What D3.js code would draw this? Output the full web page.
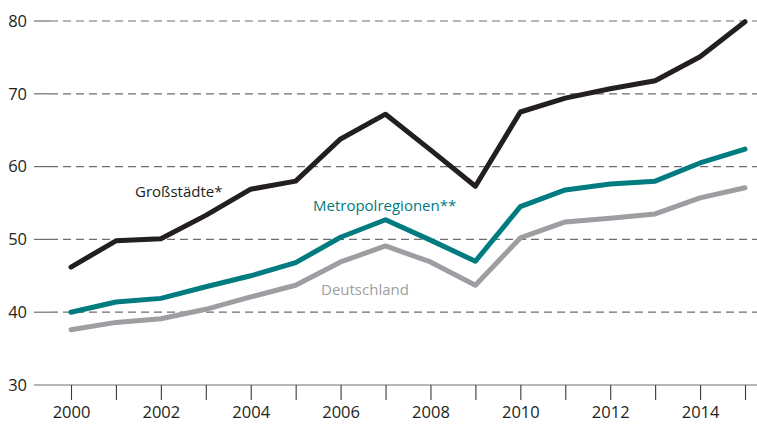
<!DOCTYPE html>
<html>
<head>
<meta charset="utf-8">
<script src="https://cdn.jsdelivr.net/npm/d3@7"></script>
<style>
  body { margin: 0; background: #fff; }
  svg { display: block; font-family: "Open Sans", "Noto Sans", sans-serif; }
</style>
</head>
<body>
<svg id="chart" width="757" height="426"></svg>
<script>
// data
const years = [2000, 2001, 2002, 2003, 2004, 2005, 2006, 2007, 2008, 2009, 2010, 2011, 2012, 2013, 2014, 2015];
const grossstaedte = [46.2, 49.8, 50.1, 53.3, 56.9, 58.0, 63.8, 67.2, 62.3, 57.3, 67.5, 69.4, 70.7, 71.8, 75.1, 79.9];
const metropol = [40.0, 41.4, 41.9, 43.5, 45.0, 46.8, 50.3, 52.7, 49.9, 47.0, 54.5, 56.8, 57.6, 58.0, 60.5, 62.4];
const deutschland = [37.6, 38.6, 39.1, 40.4, 42.1, 43.7, 46.9, 49.1, 46.9, 43.7, 50.2, 52.4, 52.9, 53.5, 55.7, 57.1];
const yTicks = [30, 40, 50, 60, 70, 80];
const xLabels = [2000, 2002, 2004, 2006, 2008, 2010, 2012, 2014];

const svg = d3.select("#chart");

//scales
const x = d3.scaleLinear().domain([2000, 2015]).range([71, 745]);
const y = d3.scaleLinear().domain([30, 80]).range([385, 21]);

const axisLeft = 34, gridStart = 50, rightEdge = 757;

//gridlines (dashed) + short solid ticks
yTicks.forEach(function (t) {
  if (t === 30) return;
  svg.append("line")
    .attr("x1", gridStart).attr("x2", rightEdge)
    .attr("y1", y(t)).attr("y2", y(t))
    .attr("stroke", "#6d6e70").attr("stroke-width", 1.2)
    .attr("stroke-dasharray", "8,5");
  svg.append("line")
    .attr("x1", axisLeft).attr("x2", gridStart)
    .attr("y1", y(t)).attr("y2", y(t))
    .attr("stroke", "#6d6e70").attr("stroke-width", 1.2);
});

//bottom axis
svg.append("line")
  .attr("x1", axisLeft).attr("x2", rightEdge)
  .attr("y1", y(30)).attr("y2", y(30))
  .attr("stroke", "#6d6e70").attr("stroke-width", 1.2);

const xAxis = svg.append("g")
  .attr("transform", "translate(0," + y(30) + ")")
  .call(d3.axisBottom(x)
    .tickValues(years)
    .tickSize(15)
    .tickFormat(function (d) { return xLabels.indexOf(d) > -1 ? d : ""; }));
xAxis.select(".domain").remove();
xAxis.selectAll("line").attr("stroke", "#3a3a3a").attr("stroke-width", 1.1);
xAxis.selectAll("text")
  .attr("y", 21)
  .attr("dy", "0.71em")
  .style("font-family", "'Open Sans', sans-serif")
  .style("font-size", "16.5px")
  .attr("fill", "#231f20");

//y labels
svg.append("g").selectAll("text")
  .data(yTicks)
  .enter().append("text")
  .attr("x", 27)
  .attr("y", function (d) { return y(d); })
  .attr("dy", "0.35em")
  .attr("text-anchor", "end")
  .style("font-size", "16.5px")
  .attr("fill", "#231f20")
  .text(function (d) { return d; });

//lines
const line = d3.line()
  .x(function (d, i) { return x(years[i]); })
  .y(function (d) { return y(d); });

const series = [
  { values: deutschland, color: "#9d9ea1" },
  { values: metropol, color: "#007c80" },
  { values: grossstaedte, color: "#231f20" }
];
series.forEach(function (s) {
  svg.append("path")
    .datum(s.values)
    .attr("d", line)
    .attr("fill", "none")
    .attr("stroke", s.color)
    .attr("stroke-width", 5)
    .attr("stroke-linejoin", "round")
    .attr("stroke-linecap", "round");
});

//series labels
svg.append("text").attr("x", 135).attr("y", 197)
  .style("font-size", "15px").attr("fill", "#231f20").text("Großstädte*");
svg.append("text").attr("x", 313).attr("y", 211)
  .style("font-size", "15px").attr("fill", "#007c80").text("Metropolregionen**");
svg.append("text").attr("x", 321).attr("y", 295)
  .style("font-size", "15px").attr("fill", "#9d9ea1").text("Deutschland");
</script>
</body>
</html>
